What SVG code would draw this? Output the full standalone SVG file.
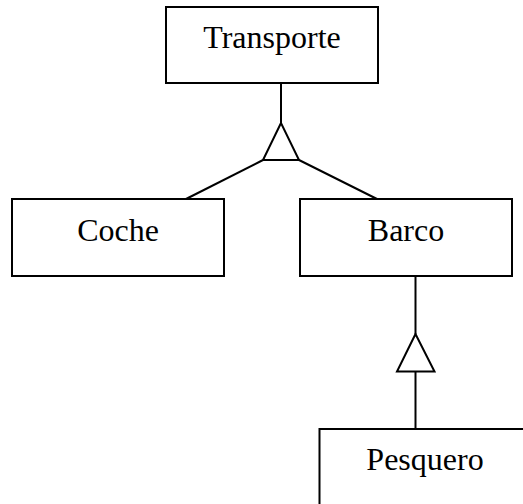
<svg xmlns="http://www.w3.org/2000/svg" width="523" height="504" viewBox="0 0 523 504">
<style>
.box{fill:#fff;stroke:#000;stroke-width:2}
.lbl{font-family:"Liberation Serif","Times New Roman",serif;font-size:32px;fill:#000;text-anchor:middle}
.con{fill:none;stroke:#000;stroke-width:2}
.tri{fill:#fff;stroke:#000;stroke-width:2;stroke-linejoin:miter}
</style>
<rect width="523" height="504" fill="#fff"/>
<g id="connectors">
<line class="con" x1="281" y1="83" x2="281" y2="123"/>
<polygon class="tri" points="281,123 263,160 299,160"/>
<line class="con" x1="263" y1="160" x2="186" y2="199"/>
<line class="con" x1="299" y1="160" x2="377" y2="199"/>
<line class="con" x1="415.5" y1="276" x2="415.5" y2="334"/>
<polygon class="tri" points="415.5,334 397,371.5 434.5,371.5"/>
<line class="con" x1="415.5" y1="371.5" x2="415.5" y2="429"/>
</g>
<g id="transporte">
<rect class="box" x="166" y="7" width="212" height="76"/>
<text class="lbl" x="272" y="48">Transporte</text>
</g>
<g id="coche">
<rect class="box" x="12" y="199" width="212" height="77"/>
<text class="lbl" x="118" y="241">Coche</text>
</g>
<g id="barco">
<rect class="box" x="300" y="199" width="212" height="77"/>
<text class="lbl" x="406" y="241">Barco</text>
</g>
<g id="pesquero">
<rect class="box" x="319.5" y="429" width="212" height="77"/>
<text class="lbl" x="425" y="470">Pesquero</text>
</g>
</svg>
